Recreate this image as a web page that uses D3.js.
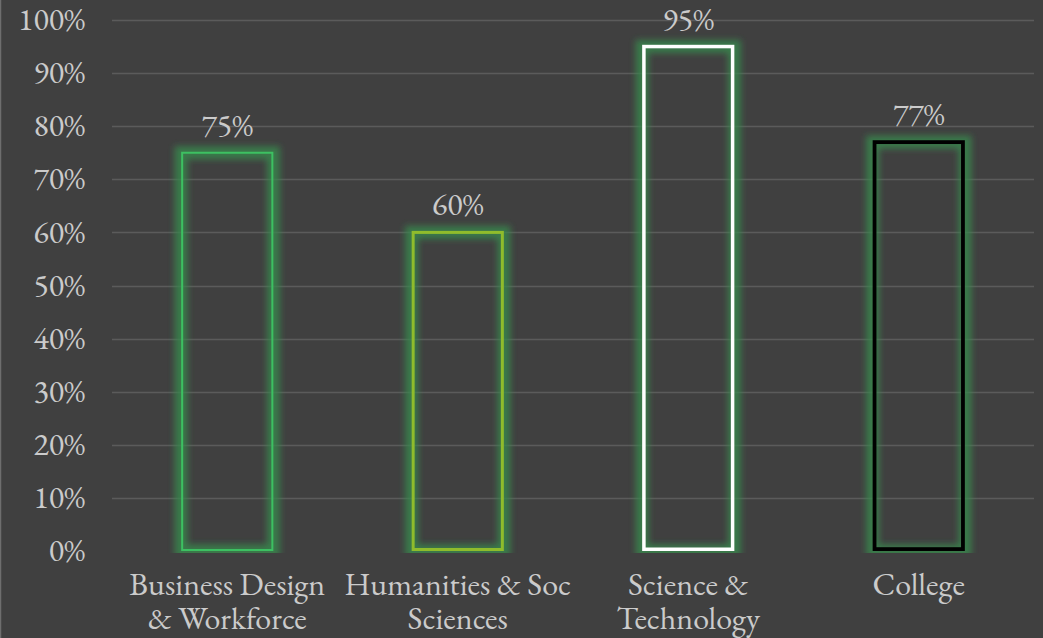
<!DOCTYPE html>
<html lang="en">
  <head>
    <meta charset="utf-8">
    <title>Chart</title>
    <style>
      html, body { margin: 0; padding: 0; background: #404040; }
      svg { display: block; }
    </style>
  </head>
  <body>
    <svg class="chart"></svg>
    <script src="https://d3js.org/d3.v7.min.js"></script>
    <script>
      // data
      const categories = [
        ["Business Design", "& Workforce"],
        ["Humanities & Soc", "Sciences"],
        ["Science &", "Technology"],
        ["College"]
      ];
      const values = [0.75, 0.60, 0.95, 0.77];
      const yTicks = [0, 0.1, 0.2, 0.3, 0.4, 0.5, 0.6, 0.7, 0.8, 0.9, 1.0];
      const strokes = ["#3dc062", "#8fbc2c", "#ffffff", "#000000"];
      const strokeWidths = [2, 3, 3.5, 3.8];

      const width = 1043, height = 638;
      const plotLeft = 112, plotRight = 1034, plotTop = 20, plotBottom = 551;
      const font = "'EB Garamond', 'Liberation Serif', serif";
      const fontSize = 32;
      const textColor = "#cbcbcb";

      const svg = d3.select(".chart")
        .attr("width", width)
        .attr("height", height);

      svg.append("rect")
        .attr("width", width).attr("height", height)
        .attr("fill", "#404040");
      svg.append("line")
        .attr("x1", 0.5).attr("x2", 0.5).attr("y1", 0).attr("y2", height)
        .attr("stroke", "#6e6e6e").attr("stroke-width", 1.5);

      const x = d3.scaleBand()
        .domain(d3.range(categories.length))
        .range([plotLeft, plotRight])
        .paddingInner(0.6)
        .paddingOuter(0.3);

      const y = d3.scaleLinear().domain([0, 1]).range([plotBottom, plotTop]);

      const defs = svg.append("defs");
      defs.append("filter").attr("id", "glow")
        .attr("x", "-20%").attr("y", "-20%").attr("width", "140%").attr("height", "140%")
        .append("feGaussianBlur").attr("stdDeviation", 3);
      defs.append("clipPath").attr("id", "plotclip")
        .append("rect")
        .attr("x", 0).attr("y", 0).attr("width", width).attr("height", plotBottom + 2);

      // gridlines
      svg.append("g")
        .selectAll("line")
        .data(yTicks.filter(d => d > 0))
        .join("line")
        .attr("x1", plotLeft).attr("x2", plotRight)
        .attr("y1", d => Math.round(y(d)) + 0.5)
        .attr("y2", d => Math.round(y(d)) + 0.5)
        .attr("stroke", "#5b5b5b")
        .attr("stroke-width", 1.5);

      // y axis labels
      const yAxis = d3.axisLeft(y)
        .tickValues(yTicks)
        .tickFormat(d3.format(".0%"))
        .tickSize(0)
        .tickPadding(0);
      const yg = svg.append("g")
        .attr("transform", "translate(85,0)")
        .call(yAxis);
      yg.select(".domain").remove();
      yg.selectAll("text")
        .attr("fill", textColor)
        .style("font-family", font)
        .style("font-size", fontSize + "px")
        .attr("dy", "0.3em");

      // glow behind bars
      svg.append("g")
        .attr("clip-path", "url(#plotclip)")
        .selectAll("rect")
        .data(values)
        .join("rect")
        .attr("x", (d, i) => x(i))
        .attr("y", d => y(d))
        .attr("width", x.bandwidth())
        .attr("height", d => plotBottom - y(d))
        .attr("fill", "none")
        .attr("stroke", "#3a8a4c")
        .attr("stroke-width", 13)
        .attr("stroke-opacity", 0.8)
        .attr("filter", "url(#glow)");

      // bar outlines
      svg.append("g")
        .selectAll("rect")
        .data(values)
        .join("rect")
        .attr("x", (d, i) => x(i) + strokeWidths[i] / 2)
        .attr("y", d => y(d))
        .attr("width", (d, i) => x.bandwidth() - strokeWidths[i])
        .attr("height", (d, i) => plotBottom - y(d) - strokeWidths[i] / 2)
        .attr("fill", "none")
        .attr("stroke", (d, i) => strokes[i])
        .attr("stroke-width", (d, i) => strokeWidths[i]);

      // value labels
      svg.append("g")
        .selectAll("text")
        .data(values)
        .join("text")
        .attr("x", (d, i) => x(i) + x.bandwidth() / 2)
        .attr("y", d => y(d) - 17)
        .attr("text-anchor", "middle")
        .attr("fill", textColor)
        .style("font-family", font)
        .style("font-size", fontSize + "px")
        .text(d => d3.format(".0%")(d));

      // category labels
      const cat = svg.append("g")
        .selectAll("text")
        .data(categories)
        .join("text")
        .attr("x", (d, i) => x(i) + x.bandwidth() / 2)
        .attr("y", 595)
        .attr("text-anchor", "middle")
        .attr("fill", textColor)
        .style("font-family", font)
        .style("font-size", fontSize + "px");
      cat.selectAll("tspan")
        .data(d => d)
        .join("tspan")
        .attr("x", function() { return this.parentNode.getAttribute("x"); })
        .attr("dy", (d, i) => i === 0 ? 0 : 34)
        .text(d => d);
    </script>
  </body>
</html>
